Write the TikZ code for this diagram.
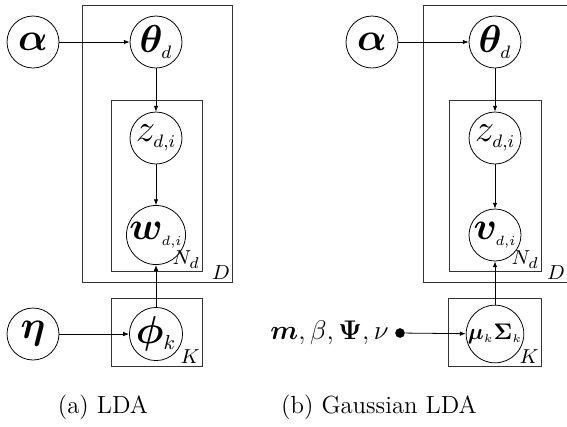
\documentclass[tikz,border=0pt]{standalone}
\usepackage{amsmath,bm}
\usetikzlibrary{arrows.meta}
\newcommand{\ssub}[1]{_{\scriptscriptstyle #1}}
\newcommand{\sizedsub}[2]{_{\text{\fontsize{#1}{#1}\selectfont$#2$}}}
\begin{document}
\begin{tikzpicture}[x=0.4444pt,y=-0.4444pt,
  var/.style={circle,draw,line width=0.35pt,minimum size=23.1pt,inner sep=0pt,font=\fontsize{16.5}{19}\selectfont},
  plate/.style={draw,line width=0.35pt,black!80},
  edge/.style={-{Latex[length=2.6pt,width=2pt]},line width=0.35pt},
  platelabel/.style={anchor=south east,inner sep=0.8pt,font=\fontsize{9.5}{11}\selectfont},
  caption/.style={font=\fontsize{11}{13}\selectfont}]
\useasboundingbox (0,0) rectangle (567,426);
\clip (0,0) rectangle (567,426);

% ---------- (a) LDA ----------
\draw[plate] (82,5) rectangle (232,282);
\draw[plate] (111,100) rectangle (202,271);
\draw[plate] (111,298) rectangle (202,366);
\node[platelabel] (aD) at (232,282) {$D$};
\node[platelabel] (aN) at (202,271) {$N_d$};
\node[platelabel] (aK) at (202,366) {$K$};

\node[var] (aalpha) at (33,42)  {$\bm{\alpha}$};
\node[var] (atheta) at (156,42) {$\bm{\theta}\ssub{d}$};
\node[var] (az)     at (156,138) {$z\ssub{d,i}$};
\node[var] (aw)     at (156,235) {$\bm{w}\sizedsub{6.5}{d{,}i}$};
\node[var] (aeta)   at (33,334) {$\bm{\eta}$};
\node[var] (aphi)   at (156,334) {$\bm{\phi}\sizedsub{9.5}{k}$};

\draw[edge] (aalpha) -- (atheta);
\draw[edge] (atheta) -- (az);
\draw[edge] (az) -- (aw);
\draw[edge] (aphi) -- (aw);
\draw[edge] (aeta) -- (aphi);

\node[caption] (capa) at (103,407) {(a) LDA};

% ---------- (b) Gaussian LDA ----------
\draw[plate] (423,5) rectangle (573,282);
\draw[plate] (449,100) rectangle (541,271);
\draw[plate] (448,298) rectangle (541,366);
\node[platelabel] (bD) at (567,282) {$D$};
\node[platelabel] (bN) at (541,271) {$N_d$};
\node[platelabel] (bK) at (541,366) {$K$};

\node[var] (balpha) at (372,42)  {$\bm{\alpha}$};
\node[var] (btheta) at (495,42) {$\bm{\theta}\ssub{d}$};
\node[var] (bz)     at (495,138) {$z\ssub{d,i}$};
\node[var] (bv)     at (495,235) {$\bm{v}\sizedsub{6.5}{d{,}i}$};
\node[var,font=\fontsize{10}{12}\selectfont] (bmu) at (495,334) {$\bm{\mu}\ssub{k}\bm{\Sigma}\ssub{k}$};
\node[circle,fill,inner sep=0pt,minimum size=4.3pt] (hyper) at (400,333) {};
\node[anchor=east,font=\large,inner sep=2.5pt] (hyperlab) at (hyper.west) {$\bm{m}, \beta, \bm{\Psi}, \nu$};

\draw[edge] (balpha) -- (btheta);
\draw[edge] (btheta) -- (bz);
\draw[edge] (bz) -- (bv);
\draw[edge] (bmu) -- (bv);
\draw[edge] (hyper) -- (bmu);

\node[caption] (capb) at (379,407) {(b) Gaussian LDA};
\end{tikzpicture}
\end{document}
